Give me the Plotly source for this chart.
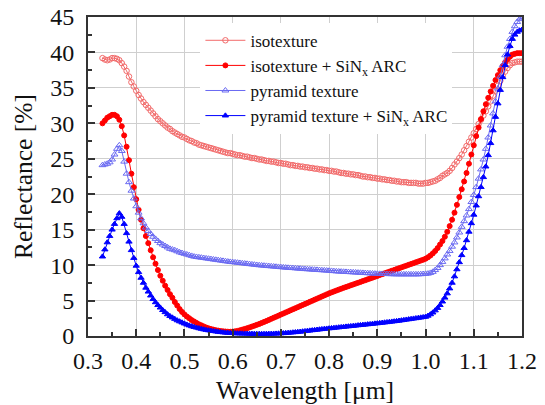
import numpy as np
import plotly.graph_objects as go

# Wavelength grid [um], 5 nm sampling from 0.330 to 1.200
WL_START, WL_STOP, WL_STEP = 0.330, 1.200, 0.005
wavelength = np.round(np.arange(WL_START, WL_STOP + WL_STEP / 2, WL_STEP), 3)

# Reflectance [%] for each surface, rows of 10 samples (0.05 um per row)
iso = [
    39.2, 39.0, 38.9, 39.0, 39.2, 39.2, 39.1, 38.9, 38.5, 38.0,
    37.4, 36.6, 35.8, 35.2, 34.6, 34.0, 33.5, 33.0, 32.6, 32.2,
    31.8, 31.4, 31.0, 30.6, 30.3, 30.0, 29.7, 29.4, 29.2, 28.9,
    28.7, 28.5, 28.3, 28.1, 28.0, 27.8, 27.6, 27.5, 27.3, 27.2,
    27.0, 26.9, 26.8, 26.7, 26.6, 26.5, 26.4, 26.3, 26.2, 26.1,
    26.0, 25.9, 25.8, 25.8, 25.7, 25.6, 25.5, 25.5, 25.4, 25.3,
    25.3, 25.2, 25.1, 25.1, 25.0, 24.9, 24.9, 24.8, 24.7, 24.7,
    24.6, 24.6, 24.5, 24.4, 24.4, 24.3, 24.3, 24.2, 24.1, 24.1,
    24.0, 24.0, 23.9, 23.9, 23.8, 23.8, 23.7, 23.7, 23.6, 23.6,
    23.5, 23.5, 23.4, 23.4, 23.3, 23.3, 23.2, 23.2, 23.1, 23.0,
    23.0, 22.9, 22.9, 22.8, 22.8, 22.7, 22.7, 22.6, 22.5, 22.5,
    22.4, 22.4, 22.3, 22.3, 22.2, 22.2, 22.1, 22.1, 22.0, 22.0,
    21.9, 21.9, 21.8, 21.8, 21.7, 21.7, 21.7, 21.6, 21.6, 21.6,
    21.6, 21.5, 21.5, 21.5, 21.6, 21.6, 21.7, 21.8, 21.9, 22.1,
    22.3, 22.6, 22.8, 23.0, 23.3, 23.7, 24.2, 24.6, 25.1, 25.6,
    26.2, 26.8, 27.4, 28.0, 28.6, 29.2, 29.9, 30.5, 31.1, 31.7,
    32.4, 33.1, 33.9, 34.6, 35.3, 36.0, 36.7, 37.3, 37.8, 38.2,
    38.5, 38.6, 38.7, 38.7, 38.7,
]

iso_arc = [
    30.0, 30.4, 30.8, 31.0, 31.2, 31.2, 31.0, 30.5, 29.6, 28.3,
    26.7, 24.8, 22.9, 21.0, 19.3, 17.8, 16.4, 15.2, 14.1, 13.1,
    12.1, 11.1, 10.2, 9.3, 8.5, 7.8, 7.1, 6.5, 5.9, 5.4,
    4.8, 4.3, 3.8, 3.4, 3.05, 2.75, 2.5, 2.25, 2.05, 1.85,
    1.65, 1.5, 1.35, 1.2, 1.08, 0.98, 0.9, 0.82, 0.76, 0.7,
    0.66, 0.63, 0.61, 0.6, 0.62, 0.66, 0.72, 0.8, 0.9, 1.0,
    1.1, 1.21, 1.33, 1.45, 1.57, 1.7, 1.84, 1.98, 2.12, 2.27,
    2.42, 2.57, 2.72, 2.87, 3.02, 3.17, 3.32, 3.47, 3.62, 3.77,
    3.92, 4.07, 4.22, 4.37, 4.52, 4.67, 4.82, 4.97, 5.12, 5.27,
    5.42, 5.57, 5.72, 5.87, 6.02, 6.15, 6.28, 6.41, 6.54, 6.67,
    6.79, 6.91, 7.03, 7.15, 7.27, 7.39, 7.51, 7.63, 7.75, 7.87,
    7.99, 8.11, 8.23, 8.35, 8.47, 8.6, 8.72, 8.84, 8.96, 9.08,
    9.2, 9.32, 9.44, 9.56, 9.68, 9.8, 9.92, 10.04, 10.16, 10.28,
    10.4, 10.52, 10.64, 10.76, 10.9, 11.1, 11.35, 11.65, 12.0, 12.4,
    12.9, 13.4, 14.0, 14.7, 15.5, 16.4, 17.4, 18.5, 19.6, 20.7,
    21.8, 23.0, 24.3, 25.6, 26.9, 28.2, 29.4, 30.6, 31.7, 32.7,
    33.6, 34.5, 35.3, 36.1, 36.8, 37.5, 38.1, 38.6, 39.0, 39.4,
    39.7, 39.8, 39.9, 39.9, 39.9,
]

pyr = [
    24.1, 24.2, 24.3, 24.5, 24.9, 25.6, 26.4, 26.9, 26.1, 24.6,
    22.9, 21.7, 20.5, 19.4, 18.3, 17.4, 16.6, 15.9, 15.3, 14.8,
    14.4, 14.0, 13.7, 13.4, 13.1, 12.9, 12.7, 12.5, 12.3, 12.2,
    12.1, 11.95, 11.8, 11.7, 11.6, 11.5, 11.4, 11.3, 11.2, 11.15,
    11.1, 11.05, 11.0, 10.95, 10.9, 10.85, 10.8, 10.75, 10.7, 10.65,
    10.6, 10.55, 10.5, 10.45, 10.42, 10.38, 10.34, 10.3, 10.26, 10.22,
    10.18, 10.14, 10.1, 10.06, 10.02, 9.98, 9.95, 9.92, 9.89, 9.86,
    9.83, 9.8, 9.77, 9.74, 9.71, 9.68, 9.65, 9.62, 9.6, 9.58,
    9.55, 9.52, 9.5, 9.47, 9.44, 9.42, 9.4, 9.37, 9.35, 9.33,
    9.3, 9.28, 9.26, 9.23, 9.2, 9.18, 9.15, 9.12, 9.1, 9.08,
    9.06, 9.04, 9.02, 9.0, 8.98, 8.96, 8.94, 8.92, 8.9, 8.88,
    8.86, 8.84, 8.82, 8.8, 8.78, 8.77, 8.76, 8.75, 8.74, 8.73,
    8.72, 8.71, 8.7, 8.7, 8.7, 8.7, 8.7, 8.7, 8.7, 8.7,
    8.7, 8.7, 8.72, 8.74, 8.77, 8.8, 8.9, 9.05, 9.3, 9.6,
    10.0, 10.45, 10.95, 11.5, 12.0, 12.6, 13.2, 13.9, 14.6, 15.4,
    16.2, 17.0, 17.9, 18.9, 19.9, 21.0, 22.2, 23.5, 24.9, 26.4,
    28.0, 29.7, 31.4, 33.1, 34.9, 36.6, 38.2, 39.6, 40.8, 41.9,
    42.9, 43.7, 44.3, 44.7, 44.9,
]

pyr_arc = [
    11.2, 12.2, 13.2, 14.1, 15.0, 15.8, 16.6, 17.3, 16.8, 15.8,
    14.5, 13.3, 12.1, 11.0, 9.9, 9.0, 8.2, 7.5, 6.8, 6.25,
    5.7, 5.2, 4.75, 4.35, 4.0, 3.65, 3.35, 3.05, 2.8, 2.6,
    2.4, 2.2, 2.05, 1.9, 1.75, 1.6, 1.48, 1.36, 1.26, 1.17,
    1.08, 1.0, 0.92, 0.85, 0.79, 0.73, 0.68, 0.63, 0.58, 0.54,
    0.5, 0.47, 0.44, 0.42, 0.4, 0.38, 0.36, 0.35, 0.34, 0.33,
    0.32, 0.31, 0.3, 0.3, 0.29, 0.29, 0.29, 0.29, 0.3, 0.3,
    0.31, 0.32, 0.33, 0.35, 0.37, 0.39, 0.41, 0.44, 0.47, 0.5,
    0.53, 0.57, 0.6, 0.64, 0.68, 0.72, 0.76, 0.8, 0.84, 0.88,
    0.92, 0.96, 1.0, 1.03, 1.07, 1.1, 1.14, 1.18, 1.21, 1.25,
    1.28, 1.32, 1.35, 1.39, 1.42, 1.46, 1.5, 1.53, 1.57, 1.6,
    1.64, 1.67, 1.71, 1.75, 1.78, 1.82, 1.86, 1.9, 1.94, 1.98,
    2.02, 2.06, 2.1, 2.15, 2.2, 2.25, 2.3, 2.35, 2.4, 2.45,
    2.5, 2.55, 2.6, 2.65, 2.7, 2.85, 3.05, 3.3, 3.6, 3.95,
    4.35, 4.85, 5.4, 6.0, 6.7, 7.5, 8.4, 9.4, 10.4, 11.4,
    12.4, 13.5, 14.7, 15.9, 17.1, 18.4, 19.7, 21.0, 22.4, 23.9,
    25.5, 27.2, 29.0, 30.9, 32.8, 34.7, 36.5, 38.2, 39.7, 40.9,
    41.9, 42.5, 42.9, 43.1, 43.2,
]

labels = [
    "isotexture",
    "isotexture + SiN<sub>x</sub> ARC",
    "pyramid texture",
    "pyramid texture + SiN<sub>x</sub> ARC",
]

FONT = "Liberation Serif"
INK = "#111111"
FRAME = "#333333"
LIGHT_RED, RED = "#f26a6a", "#ff0000"
LIGHT_BLUE, BLUE = "#6a6af2", "#0000ff"

series = [
    (iso, labels[0], LIGHT_RED, "circle-open", 5.5),
    (iso_arc, labels[1], RED, "circle", 5),
    (pyr, labels[2], LIGHT_BLUE, "triangle-up-open", 6),
    (pyr_arc, labels[3], BLUE, "triangle-up", 5.5),
]

fig = go.Figure()
for values, name, color, symbol, size in series:
    fig.add_trace(go.Scatter(
        x=wavelength, y=values, name=name, mode="lines+markers",
        line=dict(color=color, width=1),
        marker=dict(symbol=symbol, size=size, color=color,
                    line=dict(color=color, width=1)),
    ))

fig.update_layout(
    template="none",
    width=545, height=405,
    margin=dict(l=88, r=23, t=17, b=69),
    paper_bgcolor="white", plot_bgcolor="white",
    font=dict(family=FONT, size=24, color=INK),
    xaxis=dict(
        range=[0.3, 1.2], dtick=0.1, tick0=0.3, tickformat=".1f",
        showline=True, linecolor=FRAME, linewidth=2, mirror=True,
        ticks="inside", ticklen=7, tickwidth=1.5, tickcolor=FRAME,
        ticklabelstandoff=2,
        showgrid=True, gridcolor="#cfcfcf", gridwidth=1, zeroline=False,
        tickfont=dict(family=FONT, size=24, color=INK),
        title=dict(text="Wavelength [μm]", standoff=9,
                   font=dict(family=FONT, size=25.5, color=INK)),
        minor=dict(ticks="inside", ticklen=4, dtick=0.05,
                   tickcolor=FRAME, showgrid=False),
    ),
    yaxis=dict(
        range=[0, 45], dtick=5, tick0=0,
        showline=True, linecolor=FRAME, linewidth=2, mirror=True,
        ticks="inside", ticklen=7, tickwidth=1.5, tickcolor=FRAME,
        ticklabelstandoff=7,
        showgrid=True, gridcolor="#cfcfcf", gridwidth=1, zeroline=False,
        tickfont=dict(family=FONT, size=24, color=INK),
        title=dict(text="Reflectance [%]", standoff=10,
                   font=dict(family=FONT, size=25.5, color=INK)),
        minor=dict(ticks="inside", ticklen=4, dtick=2.5,
                   tickcolor=FRAME, showgrid=False),
    ),
    legend=dict(
        x=0.259, y=0.982, xanchor="left", yanchor="top",
        bgcolor="white", borderwidth=0,
        font=dict(family=FONT, size=17, color=INK),
        itemwidth=40, tracegroupgap=0,
    ),
)

fig.write_html("out.html")
